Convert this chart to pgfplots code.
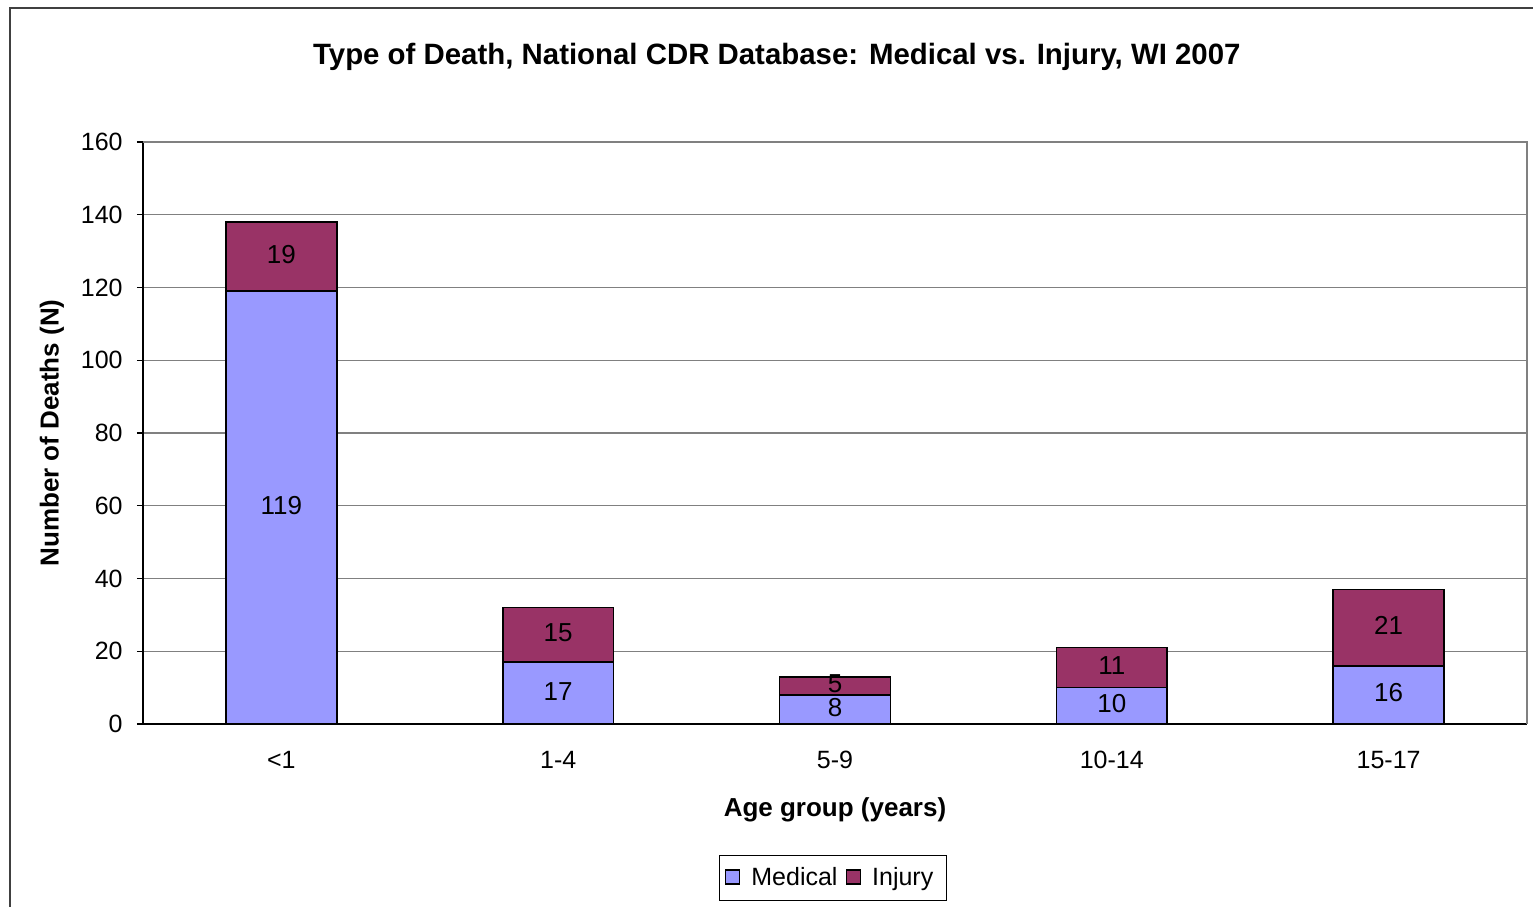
\documentclass[border=0pt]{standalone}
\usepackage{fontspec}
\setmainfont{Liberation Sans}
\usepackage{pgfplots}
\pgfplotsset{compat=1.18}
\definecolor{medical}{RGB}{153,153,255}
\definecolor{injury}{RGB}{153,51,102}
\definecolor{gridgray}{RGB}{128,128,128}
\pgfplotstableread{
x med inj medmid injmid
0 119 19 59.5 128.5
1 17 15 8.5 24.5
2 8 5 4 10.5
3 10 11 5 15.5
4 16 21 8 26.5
}\data
\pgfplotsset{
  common/.style={
    at={(71.5pt,91pt)}, anchor=south west,
    scale only axis, width=692pt, height=291pt,
    xmin=-0.5, xmax=4.5, ymin=0, ymax=160,
  }
}
\begin{document}
\begin{tikzpicture}[x=1pt,y=1pt]
\useasboundingbox (0,0) rectangle (766.5,453);
\draw[black!75, line width=0.9pt] (5,-20) -- (5,449) -- (790,449);
\begin{axis}[
  common,
  ybar stacked, bar width=0.4,
  xtick={0,1,2,3,4},
  xticklabels={{<1},{1-4},{5-9},{10-14},{15-17}},
  ytick={0,20,...,160},
  major x tick style={draw=none},
  extra x ticks={-0.5,0.5,1.5,2.5,3.5,4.5},
  extra x tick labels={},
  extra x tick style={grid=none, major tick length=3pt, tick align=outside, tick style={draw=black, line width=0.6pt}},
  ytick align=outside, major tick length=3pt,
  ytick style={draw=black, line width=0.6pt},
  ymajorgrids, grid style={gridgray, line width=0.6pt},
  axis x line*=bottom, axis y line*=left,
  axis line style={black, line width=0.8pt, -},
  /pgf/number format/assume math mode=true,
  tick label style={font=\fontsize{12.5}{14}\selectfont},
  yticklabel style={inner sep=0pt, xshift=-7pt},
  xticklabel style={inner sep=0pt, yshift=-13.5pt},
  title={Type of Death, National CDR Database: Medical vs. Injury, WI 2007},
  title style={font=\bfseries\fontsize{14.7}{17}\selectfont, at={(axis description cs:0.458,1.125)}, anchor=center},
  xlabel={Age group (years)},
  xlabel style={font=\bfseries\fontsize{13}{15}\selectfont, at={(axis description cs:0.5,-0.1478)}, anchor=center},
  ylabel={Number of Deaths (N)},
  ylabel style={font=\bfseries\fontsize{13}{15}\selectfont, at={(axis description cs:-0.0658,0.5)}, anchor=center, rotate=0},
  legend style={at={(rel axis cs:0.4986,-0.2646)}, anchor=center, legend columns=-1, draw=black, line width=0.6pt, font=\fontsize{12.5}{14}\selectfont, inner xsep=2.5pt, inner ysep=4pt,
    nodes={inner xsep=4pt},
    /tikz/every odd column/.append style={column sep=1.5pt}},
  legend image code/.code={\draw[#1, line width=0.8pt] (0pt,-3pt) rectangle (7pt,4pt);},
]
\addplot[fill=medical, draw=black, line width=0.8pt] table[x=x, y=med] {\data};
\addplot[fill=injury, draw=black, line width=0.8pt] table[x=x, y=inj] {\data};
\legend{Medical, Injury}
\end{axis}
\begin{axis}[common, hide axis,
  nodes near coords, point meta=explicit,
  every node near coord/.append style={anchor=center, yshift=1pt, font=\fontsize{13}{15}\selectfont, text=black},
  /pgf/number format/assume math mode=true]
\addplot[draw=none, mark=none, nodes near coords] table[x=x, y=medmid, meta=med] {\data};
\addplot[draw=none, mark=none, nodes near coords] table[x=x, y=injmid, meta=inj] {\data};
\end{axis}
\draw[gridgray, line width=0.8pt] (71.5,382) -- (763.5,382) -- (763.5,91);
\end{tikzpicture}
\end{document}
